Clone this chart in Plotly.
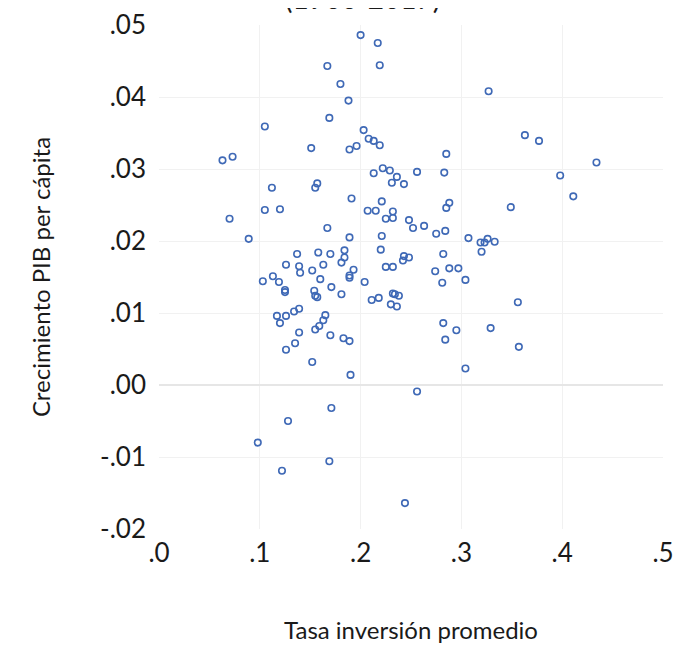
import plotly.graph_objects as go

# Tasa inversión promedio (x) and Crecimiento PIB per cápita (y)
inversion = [
    0.200, 0.217, 0.167, 0.219, 0.180, 0.188, 0.169, 0.105, 0.203, 0.208,
    0.213, 0.219, 0.151, 0.189, 0.196, 0.063, 0.073, 0.222, 0.229, 0.213,
    0.236, 0.231, 0.243, 0.256, 0.112, 0.157, 0.155, 0.191, 0.221, 0.105,
    0.120, 0.207, 0.215, 0.232, 0.070, 0.225, 0.248,
    0.327, 0.363, 0.377, 0.285, 0.434, 0.283, 0.398, 0.411, 0.288, 0.285,
    0.349,
    0.232, 0.252, 0.167, 0.089, 0.189, 0.221, 0.220, 0.137, 0.158, 0.170,
    0.184, 0.184, 0.181, 0.163, 0.126, 0.139, 0.140, 0.152, 0.193, 0.189,
    0.189, 0.160, 0.204, 0.225, 0.232, 0.243, 0.242, 0.248, 0.113, 0.119,
    0.103, 0.125, 0.125, 0.171, 0.154, 0.155, 0.157, 0.181, 0.211, 0.218,
    0.232, 0.234, 0.238, 0.230, 0.236, 0.117, 0.126, 0.120, 0.134, 0.139,
    0.165, 0.163, 0.159, 0.155, 0.139, 0.170, 0.183, 0.189, 0.135, 0.126,
    0.152, 0.190, 0.256,
    0.263, 0.275, 0.284, 0.307, 0.319, 0.326, 0.333, 0.323, 0.320, 0.282,
    0.274, 0.288, 0.297, 0.281, 0.304, 0.356, 0.282, 0.295, 0.329, 0.284,
    0.357, 0.304,
    0.171, 0.128, 0.098, 0.169, 0.122, 0.244,
]
crecimiento = [
    0.0486, 0.0475, 0.0443, 0.0444, 0.0418, 0.0395, 0.0371, 0.0359, 0.0354, 0.0342,
    0.0339, 0.0333, 0.0329, 0.0327, 0.0332, 0.0312, 0.0317, 0.0301, 0.0298, 0.0294,
    0.0289, 0.0281, 0.0279, 0.0296, 0.0274, 0.0280, 0.0274, 0.0259, 0.0255, 0.0243,
    0.0244, 0.0242, 0.0242, 0.0241, 0.0231, 0.0231, 0.0229,
    0.0408, 0.0347, 0.0339, 0.0321, 0.0309, 0.0295, 0.0291, 0.0262, 0.0253, 0.0246,
    0.0247,
    0.0232, 0.0218, 0.0218, 0.0203, 0.0205, 0.0207, 0.0188, 0.0182, 0.0184, 0.0182,
    0.0187, 0.0177, 0.0170, 0.0167, 0.0167, 0.0165, 0.0156, 0.0159, 0.0160, 0.0152,
    0.0149, 0.0147, 0.0143, 0.0164, 0.0164, 0.0179, 0.0173, 0.0177, 0.0151, 0.0143,
    0.0144, 0.0132, 0.0129, 0.0136, 0.0131, 0.0124, 0.0122, 0.0126, 0.0118, 0.0121,
    0.0127, 0.0126, 0.0124, 0.0112, 0.0109, 0.0096, 0.0096, 0.0086, 0.0102, 0.0106,
    0.0097, 0.0090, 0.0082, 0.0077, 0.0073, 0.0069, 0.0065, 0.0061, 0.0058, 0.0049,
    0.0032, 0.0014, -0.0009,
    0.0221, 0.0210, 0.0214, 0.0204, 0.0198, 0.0203, 0.0199, 0.0198, 0.0185, 0.0182,
    0.0158, 0.0162, 0.0162, 0.0142, 0.0146, 0.0115, 0.0086, 0.0076, 0.0079, 0.0063,
    0.0053, 0.0023,
    -0.0032, -0.0050, -0.0080, -0.0106, -0.0119, -0.0164,
]

x_ticks = [0.0, 0.1, 0.2, 0.3, 0.4, 0.5]
x_ticktext = [".0", ".1", ".2", ".3", ".4", ".5"]
y_ticks = [-0.02, -0.01, 0.0, 0.01, 0.02, 0.03, 0.04, 0.05]
y_ticktext = ["-.02", "-.01", ".00", ".01", ".02", ".03", ".04", ".05"]

title_text = "(1960-2017)"
x_title = "Tasa inversión promedio"
y_title = "Crecimiento PIB per cápita"

FONT = "Lato"
BLUE = "#3f69b6"

fig = go.Figure()
fig.add_trace(go.Scatter(
    x=inversion, y=crecimiento, mode="markers",
    marker=dict(symbol="circle-open", size=6.5, color=BLUE,
                line=dict(width=1.6, color=BLUE)),
    showlegend=False, hoverinfo="x+y",
))

fig.update_layout(
    width=686, height=646,
    margin=dict(l=151, r=31, t=17, b=125, autoexpand=False),
    paper_bgcolor="white", plot_bgcolor="white",
    font=dict(family=FONT, color="#1a1a1a"),
    annotations=[dict(
        text=title_text, x=(354 - 151) / 504, y=1.054,
        xref="paper", yref="paper", xanchor="center", yanchor="middle",
        showarrow=False, font=dict(family=FONT, size=28, color="#1a1a1a"),
    )],
)
fig.update_xaxes(
    automargin=False,
    range=[0, 0.5], tickvals=x_ticks, ticktext=x_ticktext,
    showgrid=True, gridcolor="#f1f1f1", gridwidth=1,
    zeroline=False, showline=False, ticks="",
    tickfont=dict(family=FONT, size=26, color="#1a1a1a"),
    ticklabelstandoff=6,
    title=dict(text=x_title, font=dict(family=FONT, size=24, color="#1a1a1a"),
               standoff=55),
)
fig.update_yaxes(
    automargin=False,
    range=[-0.02, 0.05], tickvals=y_ticks, ticktext=y_ticktext,
    showgrid=True, gridcolor="#f1f1f1", gridwidth=1,
    zeroline=True, zerolinecolor="#e6e6e6", zerolinewidth=1.5,
    showline=False, ticks="",
    tickfont=dict(family=FONT, size=26, color="#1a1a1a"),
    ticklabelstandoff=12,
    title=dict(text=y_title, font=dict(family=FONT, size=24, color="#1a1a1a"),
               standoff=42),
)

fig.write_html("out.html")
